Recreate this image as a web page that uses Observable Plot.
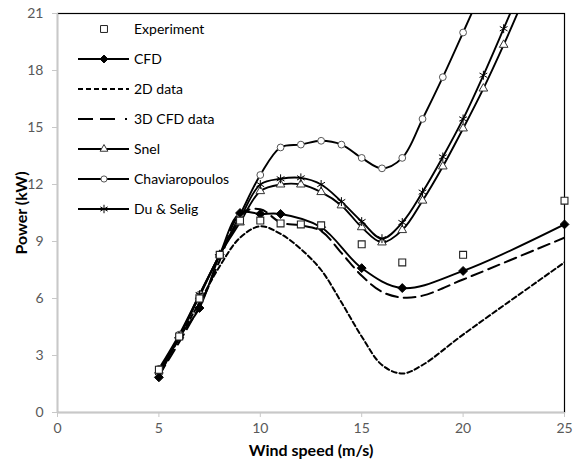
<!DOCTYPE html>
<html>
<head>
<meta charset="utf-8">
<script src="https://cdn.jsdelivr.net/npm/d3@7"></script>
<script src="https://cdn.jsdelivr.net/npm/@observablehq/plot@0.6"></script>
<style>
  html, body { margin: 0; padding: 0; background: #fff; }
  #wrap { position: relative; width: 573px; height: 461px; }
  #wrap svg { font-family: Lato, "Open Sans", sans-serif; }
  g[aria-label="x-axis label"] text, g[aria-label="y-axis label"] text {
    font-weight: bold; font-size: 16px; fill: #000;
  }
  #legend { position: absolute; left: 0; top: 0; pointer-events: none; }
</style>
</head>
<body>
<div id="wrap"></div>
<script>
// ---- Data ----
const xTicks = [0, 5, 10, 15, 20, 25];
const yTicks = [0, 3, 6, 9, 12, 15, 18, 21];

const expSpeed = [5, 6, 7, 8, 9, 10, 11, 12, 13, 15, 17, 20, 25];
const expPower = [2.25, 4.0, 6.0, 8.3, 10.1, 10.1, 9.95, 9.9, 9.85, 8.85, 7.9, 8.3, 11.15];

const cfdSpeed = [5, 6, 7, 8, 9, 10, 11, 13, 15, 17, 20, 25];
const cfdPower = [1.85, 3.95, 5.5, 8.3, 10.5, 10.45, 10.45, 9.75, 7.6, 6.55, 7.45, 9.9];

const d2Speed = [5, 6, 7, 8, 9, 10, 11, 12, 13, 14, 15, 16, 17, 18, 20, 25];
const d2Power = [2.0, 3.9, 5.8, 7.7, 9.2, 9.8, 9.4, 8.6, 7.5, 5.8, 4.0, 2.5, 2.05, 2.5, 4.1, 7.9];

const d3Speed = [5, 6, 7, 8, 9, 10, 11, 12, 13, 14, 15, 16, 17, 18, 20, 25];
const d3Power = [1.95, 3.7, 5.6, 8.0, 10.45, 10.7, 10.0, 9.85, 9.55, 8.4, 7.2, 6.35, 6.05, 6.15, 7.0, 9.2];

const modelSpeed = [5, 6, 7, 8, 9, 10, 11, 12, 13, 14, 15, 16, 17, 18, 19, 20, 21, 22, 23];
const snelPower  = [2.2, 4.0, 6.1, 8.3, 10.0, 11.65, 12.0, 12.0, 11.6, 10.9, 9.75, 8.95, 9.6, 11.15, 12.95, 14.95, 17.05, 19.35, 21.8];
const duPower    = [2.1, 4.0, 6.2, 8.3, 10.2, 12.0, 12.3, 12.35, 12.0, 11.1, 10.05, 9.15, 10.0, 11.6, 13.45, 15.45, 17.75, 20.2, 22.7];

const chavSpeed = [5, 6, 7, 8, 9, 10, 11, 12, 13, 14, 15, 16, 17, 18, 19, 20, 21];
const chavPower = [2.3, 4.1, 6.2, 8.3, 10.4, 12.5, 13.95, 14.1, 14.3, 14.1, 13.4, 12.85, 13.4, 15.45, 17.65, 20.0, 22.4];

const seriesNames = ["Experiment", "CFD", "2D data", "3D CFD data", "Snel", "Chaviaropoulos", "Du & Selig"];

// ---- build tables ----
const zip = (xs, ys) => xs.map((x, i) => ({speed: x, power: ys[i]}));
const exp = zip(expSpeed, expPower);
const cfd = zip(cfdSpeed, cfdPower);
const d2 = zip(d2Speed, d2Power);
const d3d = zip(d3Speed, d3Power);
const snel = zip(modelSpeed, snelPower);
const du = zip(modelSpeed, duPower);
const chav = zip(chavSpeed, chavPower);

const lineOpts = {x: "speed", y: "power", stroke: "black", strokeWidth: 1.9, curve: "catmull-rom", clip: true};

const chart = Plot.plot({
  width: 573,
  height: 461,
  marginLeft: 57,
  marginRight: 9,
  marginTop: 13,
  marginBottom: 49,
  x: {domain: [0, 25]},
  y: {domain: [0, 21]},
  style: {fontFamily: "Lato, 'Open Sans', sans-serif", fontSize: "14px", background: "white", overflow: "visible"},
  marks: [
    Plot.frame({stroke: "black", strokeWidth: 1.2}),
    Plot.ruleX([0], {stroke: "#c8c8c8", strokeWidth: 1.3}),
    Plot.ruleY([0], {stroke: "#c8c8c8", strokeWidth: 1.3}),
    Plot.axisX({ticks: xTicks, tickSize: 5, tickPadding: 6, stroke: "#c8c8c8", fill: "#595959",
      label: "Wind speed (m/s)", labelAnchor: "center", labelOffset: 43, labelArrow: "none"}),
    Plot.axisY({ticks: yTicks, tickSize: 5, tickPadding: 9, stroke: "#c8c8c8", fill: "#595959",
      label: "Power (kW)", labelAnchor: "center", labelOffset: 42, labelArrow: "none"}),
    Plot.line(d2, {...lineOpts, strokeWidth: 2, strokeDasharray: "5,3"}),
    Plot.line(d3d, {...lineOpts, strokeWidth: 2, strokeDasharray: "12,6"}),
    Plot.line(chav, lineOpts),
    Plot.line(snel, lineOpts),
    Plot.line(du, lineOpts),
    Plot.line(cfd, lineOpts),
    Plot.dot(chav, {x: "speed", y: "power", symbol: "circle", r: 3.4, fill: "white", stroke: "#555", strokeWidth: 1, clip: true}),
    Plot.dot(snel, {x: "speed", y: "power", symbol: "triangle", r: 3.2, fill: "white", stroke: "#333", strokeWidth: 1, clip: true}),
    Plot.dot(du, {x: "speed", y: "power", symbol: "asterisk", r: 4.2, stroke: "black", strokeWidth: 1, clip: true}),
    Plot.dot(cfd, {x: "speed", y: "power", symbol: "diamond2", r: 4, fill: "black", stroke: "black", strokeWidth: 1}),
    Plot.dot(exp, {x: "speed", y: "power", symbol: "square", r: 3.9, fill: "white", stroke: "#222", strokeWidth: 1.1})
  ]
});
document.getElementById("wrap").appendChild(chart);

// ---- Legend (overlay) ----
const legendItems = [
  {name: seriesNames[0], line: false, dash: null, symbol: d3.symbolSquare, fill: "white", stroke: "#222", size: 48},
  {name: seriesNames[1], line: true, dash: null, symbol: d3.symbolDiamond2, fill: "black", stroke: "black", size: 40},
  {name: seriesNames[2], line: true, dash: "5,3", symbol: null},
  {name: seriesNames[3], line: true, dash: "15,7,15,10,2,10", symbol: null},
  {name: seriesNames[4], line: true, dash: null, symbol: d3.symbolTriangle, fill: "white", stroke: "#333", size: 26},
  {name: seriesNames[5], line: true, dash: null, symbol: d3.symbolCircle, fill: "white", stroke: "#555", size: 30},
  {name: seriesNames[6], line: true, dash: null, symbol: d3.symbolAsterisk, fill: "none", stroke: "black", size: 50}
];
const leg = d3.select("#wrap").append("svg")
  .attr("id", "legend").attr("width", 573).attr("height", 461);
const rowY = i => 29 + i * 30;
legendItems.forEach((it, i) => {
  const g = leg.append("g").attr("transform", `translate(0,${rowY(i)})`);
  if (it.line) {
    g.append("line").attr("x1", 78).attr("x2", 129).attr("y1", 0).attr("y2", 0)
      .attr("stroke", "black").attr("stroke-width", it.dash ? 2 : 1.9)
      .attr("stroke-dasharray", it.dash);
  }
  if (it.symbol) {
    g.append("path").attr("transform", "translate(104,0)")
      .attr("d", d3.symbol(it.symbol, it.size)())
      .attr("fill", it.fill).attr("stroke", it.stroke).attr("stroke-width", 1);
  }
  g.append("text").attr("x", 134).attr("y", 0).attr("dy", "0.35em")
    .attr("font-family", "Lato, 'Open Sans', sans-serif").attr("font-size", "14px")
    .attr("fill", "#000").text(it.name);
});
</script>
</body>
</html>
